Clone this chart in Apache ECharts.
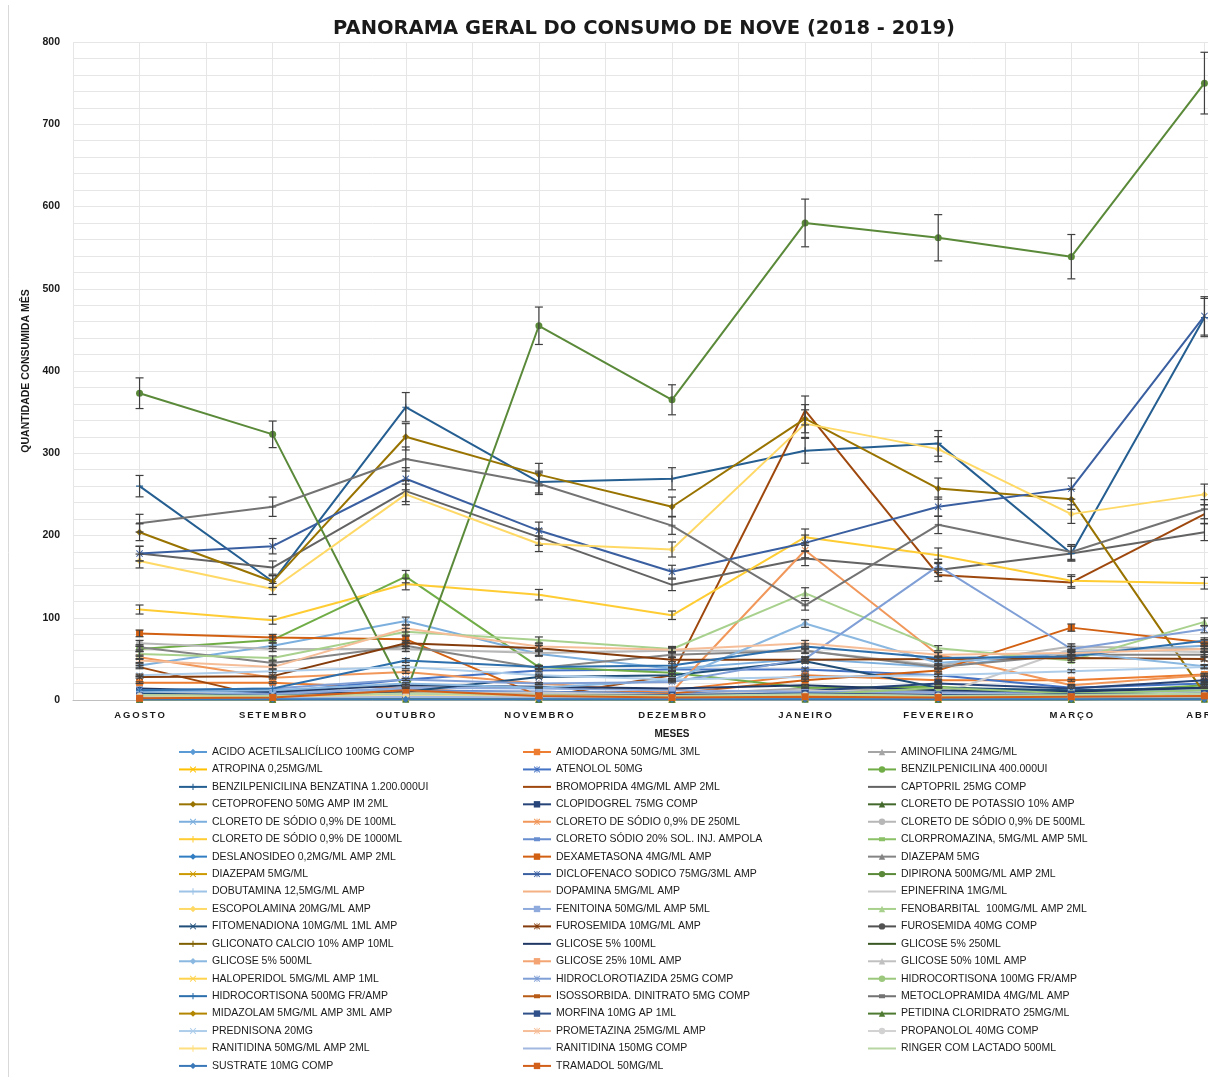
<!DOCTYPE html>
<html>
<head>
<meta charset="utf-8">
<script src="https://cdn.jsdelivr.net/npm/echarts@6/dist/echarts.min.js"></script>
<style>
  html, body { margin: 0; padding: 0; background: #fff; overflow: hidden; }
  #chart { width: 1280px; height: 1100px; }
</style>
</head>
<body>
<div id="chart"></div>
<script>
// Months (Aug 2018 - Apr 2019)
const months = ['AGOSTO', 'SETEMBRO', 'OUTUBRO', 'NOVEMBRO', 'DEZEMBRO', 'JANEIRO', 'FEVEREIRO', 'MARÇO', 'ABRIL'];

// Monthly consumption per item
const acidoAcetilsalicilico = [6, 3, 4, 3, 2, 5, 1, 2, 3];
const amiodarona = [21, 21, 14, 6, 12, 30, 24, 24, 31];
const aminofilina = [10, 8, 12, 9, 7, 14, 10, 11, 12];
const atropina = [3, 2, 3, 2, 3, 2, 2, 3, 2];
const atenolol = [8, 9, 25, 36, 37, 37, 30, 15, 20];
const benzilpenicilina400 = [62, 73, 150, 40, 33, 15, 16, 8, 18];
const benzilpenicilinaBenzatina = [260, 144, 356, 265, 269, 303, 312, 178, 465];
const bromoprida = [40, 2, 5, 3, 30, 352, 152, 143, 226];
const captopril = [178, 161, 254, 198, 140, 172, 158, 178, 204];
const cetoprofeno = [204, 144, 320, 274, 235, 342, 257, 244, 8];
const clopidogrel = [12, 8, 9, 10, 8, 11, 20, 14, 24];
const cloretoPotassio = [1, 1, 2, 1, 1, 2, 1, 1, 2];
const cloretoSodio100 = [42, 66, 96, 56, 38, 50, 40, 58, 66];
const cloretoSodio250 = [52, 27, 34, 20, 10, 182, 55, 18, 30];
const cloretoSodio500 = [69, 62, 62, 57, 60, 60, 42, 65, 62];
const cloretoSodio1000 = [110, 97, 141, 128, 103, 198, 176, 145, 142];
const cloretoSodio20 = [8, 10, 12, 10, 8, 10, 9, 10, 12];
const clorpromazina = [5, 4, 6, 5, 4, 5, 4, 6, 5];
const deslanosideo = [2, 2, 3, 2, 2, 3, 2, 2, 3];
const dexametasona = [81, 76, 74, 5, 8, 24, 36, 88, 70];
const diazepam5mg = [64, 45, 66, 39, 55, 60, 40, 55, 55];
const diazepam5mgMl = [3, 2, 4, 3, 2, 3, 2, 3, 2];
const diclofenaco = [178, 187, 269, 206, 156, 191, 235, 257, 467];
const dipirona = [373, 323, 8, 455, 365, 580, 562, 539, 750];
const dobutamina = [5, 12, 10, 8, 6, 7, 5, 6, 8];
const dopamina = [4, 3, 5, 4, 3, 4, 3, 4, 5];
const epinefrina = [10, 6, 8, 9, 6, 12, 6, 62, 58];
const escopolamina = [169, 135, 250, 190, 183, 336, 305, 226, 250];
const fenitoina = [8, 7, 15, 14, 12, 10, 9, 12, 14];
const fenobarbital = [56, 51, 83, 73, 62, 130, 63, 48, 95];
const fitomenadiona = [8, 5, 10, 28, 30, 47, 15, 12, 15];
const furosemida10 = [28, 29, 69, 63, 49, 49, 50, 51, 50];
const furosemida40 = [3, 4, 6, 5, 3, 5, 4, 3, 6];
const gliconatoCalcio = [2, 1, 3, 2, 2, 3, 2, 2, 3];
const glicose5_100 = [14, 10, 18, 16, 14, 18, 12, 10, 15];
const glicose5_250 = [2, 2, 3, 2, 2, 3, 2, 2, 3];
const glicose5_500 = [10, 12, 20, 15, 24, 93, 45, 58, 41];
const glicose25 = [4, 3, 6, 3, 4, 6, 5, 5, 6];
const glicose50 = [6, 4, 5, 4, 3, 5, 4, 4, 5];
const haloperidol = [2, 1, 2, 2, 1, 2, 1, 2, 2];
const hidroclorotiazida = [12, 14, 25, 20, 22, 50, 163, 62, 86];
const hidrocortisona100 = [5, 4, 6, 5, 4, 6, 15, 8, 12];
const hidrocortisona500 = [12, 14, 48, 40, 42, 65, 51, 53, 72];
const isossorbida = [6, 4, 8, 6, 5, 7, 6, 6, 7];
const metoclopramida = [215, 235, 293, 263, 212, 115, 213, 180, 232];
const midazolam = [3, 2, 4, 3, 3, 4, 3, 3, 4];
const morfina = [5, 4, 6, 5, 6, 8, 6, 7, 8];
const petidina = [1, 1, 1, 1, 1, 1, 1, 1, 1];
const prednisona = [30, 35, 40, 30, 25, 28, 30, 35, 40];
const prometazina = [48, 40, 87, 65, 61, 69, 55, 57, 62];
const propanolol = [5, 4, 6, 5, 4, 6, 5, 4, 6];
const ranitidina50 = [4, 3, 5, 4, 3, 5, 4, 3, 5];
const ranitidina150 = [3, 2, 4, 3, 2, 3, 2, 3, 4];
const ringer = [6, 5, 8, 6, 5, 7, 5, 6, 8];
const sustrate = [1, 1, 1, 1, 1, 1, 1, 1, 1];
const tramadol = [2, 3, 12, 5, 3, 4, 3, 4, 5];

const seriesNames = [
  'ACIDO ACETILSALICÍLICO 100MG COMP', 'AMIODARONA 50MG/ML 3ML', 'AMINOFILINA 24MG/ML',
  'ATROPINA 0,25MG/ML', 'ATENOLOL 50MG', 'BENZILPENICILINA 400.000UI',
  'BENZILPENICILINA BENZATINA 1.200.000UI', 'BROMOPRIDA 4MG/ML AMP 2ML', 'CAPTOPRIL 25MG COMP',
  'CETOPROFENO 50MG AMP IM 2ML', 'CLOPIDOGREL 75MG COMP', 'CLORETO DE POTASSIO 10% AMP',
  'CLORETO DE SÓDIO 0,9% DE 100ML', 'CLORETO DE SÓDIO 0,9% DE 250ML', 'CLORETO DE SÓDIO 0,9% DE 500ML',
  'CLORETO DE SÓDIO 0,9% DE 1000ML', 'CLORETO SÓDIO 20% SOL. INJ. AMPOLA', 'CLORPROMAZINA, 5MG/ML AMP 5ML',
  'DESLANOSIDEO 0,2MG/ML AMP 2ML', 'DEXAMETASONA 4MG/ML AMP', 'DIAZEPAM 5MG',
  'DIAZEPAM 5MG/ML', 'DICLOFENACO SODICO 75MG/3ML AMP', 'DIPIRONA 500MG/ML AMP 2ML',
  'DOBUTAMINA 12,5MG/ML AMP', 'DOPAMINA 5MG/ML AMP', 'EPINEFRINA 1MG/ML',
  'ESCOPOLAMINA 20MG/ML AMP', 'FENITOINA 50MG/ML AMP 5ML', 'FENOBARBITAL  100MG/ML AMP 2ML',
  'FITOMENADIONA 10MG/ML 1ML AMP', 'FUROSEMIDA 10MG/ML AMP', 'FUROSEMIDA 40MG COMP',
  'GLICONATO CALCIO 10% AMP 10ML', 'GLICOSE 5% 100ML', 'GLICOSE 5% 250ML',
  'GLICOSE 5% 500ML', 'GLICOSE 25% 10ML AMP', 'GLICOSE 50% 10ML AMP',
  'HALOPERIDOL 5MG/ML AMP 1ML', 'HIDROCLOROTIAZIDA 25MG COMP', 'HIDROCORTISONA 100MG FR/AMP',
  'HIDROCORTISONA 500MG FR/AMP', 'ISOSSORBIDA. DINITRATO 5MG COMP', 'METOCLOPRAMIDA 4MG/ML AMP',
  'MIDAZOLAM 5MG/ML AMP 3ML AMP', 'MORFINA 10MG AP 1ML', 'PETIDINA CLORIDRATO 25MG/ML',
  'PREDNISONA 20MG', 'PROMETAZINA 25MG/ML AMP', 'PROPANOLOL 40MG COMP',
  'RANITIDINA 50MG/ML AMP 2ML', 'RANITIDINA 150MG COMP', 'RINGER COM LACTADO 500ML',
  'SUSTRATE 10MG COMP', 'TRAMADOL 50MG/ML'
];

const seriesValues = [
  acidoAcetilsalicilico, amiodarona, aminofilina, atropina, atenolol, benzilpenicilina400,
  benzilpenicilinaBenzatina, bromoprida, captopril, cetoprofeno, clopidogrel, cloretoPotassio,
  cloretoSodio100, cloretoSodio250, cloretoSodio500, cloretoSodio1000, cloretoSodio20, clorpromazina,
  deslanosideo, dexametasona, diazepam5mg, diazepam5mgMl, diclofenaco, dipirona,
  dobutamina, dopamina, epinefrina, escopolamina, fenitoina, fenobarbital,
  fitomenadiona, furosemida10, furosemida40, gliconatoCalcio, glicose5_100, glicose5_250,
  glicose5_500, glicose25, glicose50, haloperidol, hidroclorotiazida, hidrocortisona100,
  hidrocortisona500, isossorbida, metoclopramida, midazolam, morfina, petidina,
  prednisona, prometazina, propanolol, ranitidina50, ranitidina150, ringer,
  sustrate, tramadol
];

// Office palette: six accents followed by their shade/tint variants
const palette = [
  '#5B9BD5', '#ED7D31', '#A5A5A5', '#FFC000', '#4472C4', '#70AD47',
  '#255E91', '#9E480E', '#636363', '#997300', '#264478', '#43682B',
  '#7CAFDD', '#F1975A', '#B7B7B7', '#FFCD33', '#698ED0', '#8CC168',
  '#327DC2', '#D26012', '#848484', '#CC9A00', '#3A5FA0', '#5A8A39',
  '#9DC3E6', '#F4B183', '#C9C9C9', '#FFD966', '#8FAADC', '#A9D18E',
  '#1F4E79', '#843C0C', '#525252', '#7F6000', '#203864', '#385723',
  '#8BB8E1', '#F3A472', '#C0C0C0', '#FFD34D', '#7F9FD6', '#9BC87C',
  '#2C6FAC', '#B85B16', '#737373', '#B38600', '#2F5089', '#4E7A31',
  '#ADCDEA', '#F6BE98', '#D2D2D2', '#FFDF80', '#A2B8E1', '#B8D6A3',
  '#3A78B8', '#D2601A'
];

// Marker cycle: diamond, square, triangle, x, star, circle, plus, dash, none
const plusPath = 'path://M4.2,0h1.6v4.2h4.2v1.6h-4.2v4.2h-1.6v-4.2h-4.2v-1.6h4.2z';
const xPath = 'path://M0,1L1,0L5,4L9,0L10,1L6,5L10,9L9,10L5,6L1,10L0,9L4,5z';
const starPath = 'path://M0,1L1,0L5,4L9,0L10,1L6,5L10,9L9,10L5,6L1,10L0,9L4,5z M4.4,0h1.2v10h-1.2z';
const dashPath = 'path://M0,0h10v2.6h-10z';
// legend icons drawn as a whole (line plus optional dash)
const plainLineIcon = 'path://M0,0h28v2h-28z';
const dashLineIcon = 'path://M0,1h28v2h-28z M11,0h6v4h-6z';
const markerCycle = ['diamond', 'rect', 'triangle', xPath, starPath, 'circle', plusPath, 'none', 'none'];
function markerFor(i) {
  // the dash marker shows on the second and fifth pass of the cycle
  const k = i % 9;
  if (k === 7 || k === 8) {
    const pass = Math.floor(i / 9);
    return (pass === 1 || pass === 4) ? dashPath : 'none';
  }
  return markerCycle[k];
}

const lineSeries = seriesNames.map((name, i) => ({
  name: name,
  type: 'line',
  data: seriesValues[i].map((v, m) => [m, v]),
  symbol: markerFor(i),
  symbolSize: 7,
  symbolKeepAspect: true,
  showSymbol: true,
  lineStyle: { width: 2, color: palette[i] },
  itemStyle: { color: palette[i], borderWidth: 0 },
  emphasis: { disabled: true },
  z: 2
}));

// 5% error bars (skipped where the bar would be lost in the baseline cluster)
const errorData = [];
seriesValues.forEach(vals => vals.forEach((v, m) => {
  if (v >= 15) errorData.push([m, v * 0.95, v * 1.05]);
}));

const errorSeries = {
  name: 'erro',
  type: 'custom',
  silent: true,
  z: 3,
  data: errorData,
  encode: { x: 0, y: [1, 2] },
  renderItem: function (params, api) {
    const x = api.value(0);
    const lo = api.coord([x, api.value(1)]);
    const hi = api.coord([x, api.value(2)]);
    const w = 4;
    const st = { stroke: '#404040', lineWidth: 1.2 };
    return {
      type: 'group',
      children: [
        { type: 'line', shape: { x1: lo[0], y1: lo[1], x2: hi[0], y2: hi[1] }, style: st },
        { type: 'line', shape: { x1: lo[0] - w, y1: lo[1], x2: lo[0] + w, y2: lo[1] }, style: st },
        { type: 'line', shape: { x1: hi[0] - w, y1: hi[1], x2: hi[0] + w, y2: hi[1] }, style: st }
      ]
    };
  }
};

// legend entries: series without markers get a plain line icon, dash markers a line with a dash
function legendItems(col) {
  const items = [];
  seriesNames.forEach((name, i) => {
    if (i % 3 !== col) return;
    const mk = markerFor(i);
    if (mk === 'none') items.push({ name: name, icon: plainLineIcon });
    else if (mk === dashPath) items.push({ name: name, icon: dashLineIcon });
    else items.push({ name: name });
  });
  return items;
}

const spaced = s => s.split('').join('\u2009');
const gridColor = '#e6e6e6';
const legendCols = [173, 517, 862];

const option = {
  animation: false,
  backgroundColor: '#ffffff',
  title: {
    text: 'PANORAMA GERAL DO CONSUMO DE NOVE (2018 - 2019)',
    left: 639,
    top: 14,
    textAlign: 'center',
    textStyle: { fontFamily: 'DejaVu Sans', fontWeight: 'bold', fontSize: 19.5, color: '#1a1a1a' }
  },
  grid: { left: 73, top: 42, right: 9, bottom: 400, containLabel: false },
  xAxis: {
    type: 'value',
    min: -0.5,
    max: 8.5,
    interval: 0.5,
    axisLine: { show: true, onZero: false, lineStyle: { color: '#bfbfbf', width: 1 } },
    axisTick: { show: false },
    splitLine: { show: true, lineStyle: { color: gridColor, width: 1 } },
    axisLabel: {
      formatter: v => (Number.isInteger(v) && months[v]) ? spaced(months[v]) : '',
      fontFamily: 'Liberation Sans', fontWeight: 'bold', fontSize: 9.5, color: '#1a1a1a',
      margin: 10, showMinLabel: true, showMaxLabel: true
    },
    name: 'MESES',
    nameLocation: 'middle',
    nameGap: 29,
    nameTextStyle: { fontFamily: 'Liberation Sans', fontWeight: 'bold', fontSize: 10, color: '#1a1a1a' }
  },
  yAxis: {
    type: 'value',
    min: 0,
    max: 800,
    interval: 100,
    axisLine: { show: false },
    axisTick: { show: false },
    splitLine: { show: true, lineStyle: { color: gridColor, width: 1 } },
    minorTick: { show: false, splitNumber: 5 },
    minorSplitLine: { show: true, lineStyle: { color: gridColor, width: 1 } },
    axisLabel: { fontFamily: 'Liberation Sans', fontWeight: 'bold', fontSize: 10.5, color: '#1a1a1a', margin: 13 },
    name: 'QUANTIDADE CONSUMIDA MÊS',
    nameLocation: 'middle',
    nameRotate: 90,
    nameGap: 32,
    nameTextStyle: { fontFamily: 'Liberation Sans', fontWeight: 'bold', fontSize: 10.5, color: '#1a1a1a' }
  },
  legend: legendCols.map((left, c) => ({
    orient: 'vertical',
    left: left,
    top: 741,
    itemWidth: 28,
    itemHeight: 8,
    itemGap: 5.44,
    selectedMode: false,
    data: legendItems(c),
    textStyle: { fontFamily: 'Liberation Sans', fontSize: 10.5, color: '#1a1a1a', lineHeight: 12 }
  })),
  graphic: [
    {
      type: 'line',
      shape: { x1: 8.5, y1: 5, x2: 8.5, y2: 1100 },
      style: { stroke: '#d9d9d9', lineWidth: 1 },
      silent: true
    }
  ],
  series: lineSeries.concat([errorSeries])
};

const chart = echarts.init(document.getElementById('chart'), null, { renderer: 'canvas' });
chart.setOption(option);
</script>
</body>
</html>
